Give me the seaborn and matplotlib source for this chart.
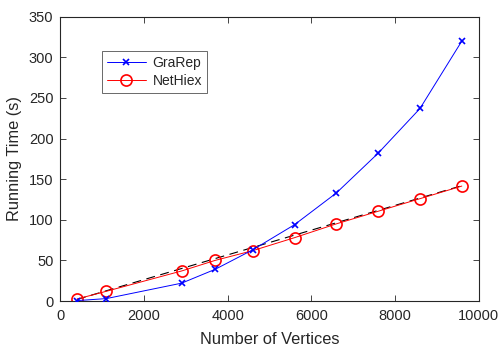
import numpy as np
import pandas as pd
import matplotlib
matplotlib.use("Agg")
import matplotlib.pyplot as plt
import seaborn as sns

# data
vertices = [400, 1100, 2900, 3700, 4600, 5600, 6600, 7600, 8600, 9600]
grarep = [0.5, 3, 22, 39, 63, 94, 133, 182, 237, 320]
nethiex = [2.5, 12, 37, 50, 62, 78, 95, 110.5, 126, 141.5]
# dashed black reference line (end points)
fit_x = [400, 9600]
fit_y = [2, 142]

sns.set_theme(style="ticks")
plt.rcParams['font.family'] = ['Liberation Sans', 'DejaVu Sans']
edge = "#262626"

fig = plt.figure(figsize=(4.99, 3.48), dpi=100)
ax = fig.add_axes([0.121, 0.135, 0.838, 0.817])

df = pd.DataFrame({"x": vertices, "GraRep": grarep, "NetHiex": nethiex})

sns.lineplot(x=fit_x, y=fit_y, ax=ax, color="black", lw=0.8,
             linestyle=(0, (8, 5)), zorder=1)
sns.lineplot(data=df, x="x", y="GraRep", ax=ax, color="blue", lw=0.7,
             marker="x", markersize=5, markeredgewidth=1.2,
             markeredgecolor="blue", label="GraRep", zorder=3)
sns.lineplot(data=df, x="x", y="NetHiex", ax=ax, color="red", lw=0.7,
             marker="o", markersize=8, markerfacecolor="none",
             markeredgewidth=1.2, markeredgecolor="red", label="NetHiex", zorder=2)

ax.set_xlim(0, 10000)
ax.set_ylim(0, 350)
ax.set_xticks([0, 2000, 4000, 6000, 8000, 10000])
ax.set_yticks([0, 50, 100, 150, 200, 250, 300, 350])
ax.set_xlabel("Number of Vertices", fontsize=11.8, color=edge, labelpad=6)
ax.set_ylabel("Running Time (s)", fontsize=11.8, color=edge, labelpad=5)
ax.tick_params(direction="in", top=True, right=True, length=4, width=0.6,
               labelsize=10.5, colors=edge)
ax.tick_params(axis="x", pad=6)
ax.tick_params(axis="y", pad=5)
for s in ax.spines.values():
    s.set_linewidth(0.8)
    s.set_color(edge)

leg = ax.legend(loc="upper left", bbox_to_anchor=(0.099, 0.879), borderaxespad=0,
                fontsize=10, frameon=True, fancybox=False, edgecolor=edge,
                handlelength=2.8, handletextpad=0.5, borderpad=0.35,
                labelspacing=0.3)
leg.get_frame().set_linewidth(0.6)
for t in leg.get_texts():
    t.set_color(edge)

fig.savefig("out.png", dpi=100)
